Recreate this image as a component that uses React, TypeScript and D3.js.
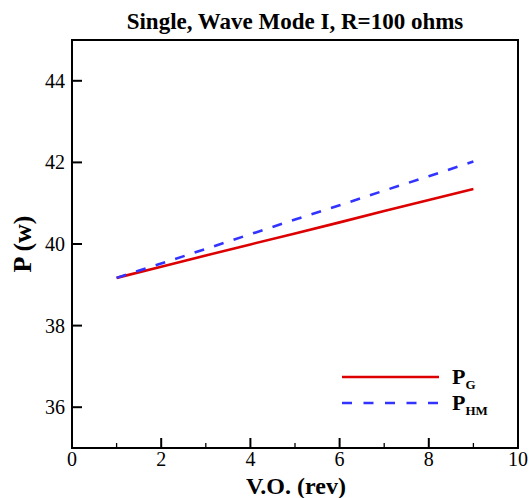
import React from "react";
import * as d3 from "d3";

const xValues = [1, 2, 3, 4, 5, 6, 7, 8, 9];
const pG = [39.17, 39.44, 39.72, 39.99, 40.26, 40.53, 40.81, 41.08, 41.35];
const pHM = [39.17, 39.52, 39.88, 40.24, 40.6, 40.95, 41.31, 41.66, 42.02];
const xMajorTicks = [0, 2, 4, 6, 8, 10];
const xMinorTicks = [1, 3, 5, 7, 9];
const yMajorTicks = [36, 38, 40, 42, 44];
const title = "Single, Wave Mode I, R=100 ohms";
const xTitle = "V.O. (rev)";
const yTitle = "P (w)";

const W = 530;
const H = 498;
const left = 72;
const right = 518;
const top = 40;
const bottom = 448;
const FONT = "'Liberation Serif', 'Times New Roman', serif";

export default function App() {
  const x = d3.scaleLinear().domain([0, 10]).range([left, right]);
  const y = d3.scaleLinear().domain([35, 45]).range([bottom, top]);
  const line = d3
    .line<number>()
    .x((_, i) => x(xValues[i]))
    .y((d) => y(d));

  return (
    <svg
      width={W}
      height={H}
      style={{ position: "absolute", left: 0, top: 0, background: "#fff" }}
      fontFamily={FONT}
    >
      <rect x={0} y={0} width={W} height={H} fill="#fff" />
      <text x={295} y={29} textAnchor="middle" fontWeight="bold" fontSize={23}>
        {title}
      </text>

      <path d={line(pG) || ""} fill="none" stroke="#dd0000" strokeWidth={2.6} />
      <path
        d={line(pHM) || ""}
        fill="none"
        stroke="#3333ff"
        strokeWidth={2.6}
        strokeDasharray="10,10.5"
      />

      <rect
        x={left}
        y={top}
        width={right - left}
        height={bottom - top}
        fill="none"
        stroke="#000"
        strokeWidth={2}
      />

      {xMajorTicks.map((t) => (
        <g key={"xm" + t}>
          <line x1={x(t)} x2={x(t)} y1={bottom} y2={bottom - 10} stroke="#000" strokeWidth={2} />
          <text x={x(t)} y={466} textAnchor="middle" fontSize={20}>
            {t}
          </text>
        </g>
      ))}
      {xMinorTicks.map((t) => (
        <line key={"xn" + t} x1={x(t)} x2={x(t)} y1={bottom} y2={bottom - 5} stroke="#000" strokeWidth={1.3} />
      ))}
      {yMajorTicks.map((t) => (
        <g key={"ym" + t}>
          <line x1={left} x2={left + 10} y1={y(t)} y2={y(t)} stroke="#000" strokeWidth={2} />
          <text x={65} y={y(t) + 7} textAnchor="end" fontSize={20}>
            {t}
          </text>
        </g>
      ))}

      <text x={296} y={494} textAnchor="middle" fontWeight="bold" fontSize={24}>
        {xTitle}
      </text>
      <text
        transform={`translate(31, ${(top + bottom) / 2}) rotate(-90)`}
        textAnchor="middle"
        fontWeight="bold"
        fontSize={26}
      >
        {yTitle}
      </text>

      <line x1={342} x2={439} y1={377} y2={377} stroke="#dd0000" strokeWidth={2.6} />
      <line x1={342} x2={439} y1={403} y2={403} stroke="#3333ff" strokeWidth={2.6} strokeDasharray="10,11.5" />
      <text x={452} y={384} fontWeight="bold" fontSize={22}>
        P
        <tspan dy={5} fontSize={13}>G</tspan>
      </text>
      <text x={452} y={410} fontWeight="bold" fontSize={22}>
        P
        <tspan dy={5} fontSize={13}>HM</tspan>
      </text>
    </svg>
  );
}
